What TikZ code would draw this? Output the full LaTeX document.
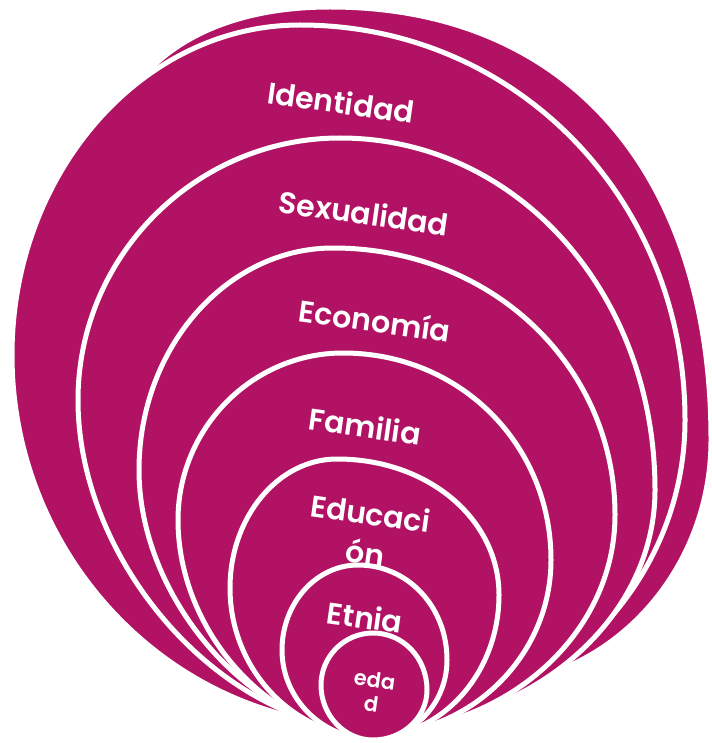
\documentclass[tikz,border=0pt]{standalone}
\usepackage{fontspec}
\setmainfont{Poppins}
\newfontfamily\lblfont{Poppins SemiBold}
\usetikzlibrary{calc}
\definecolor{mag}{RGB}{177,18,100}
\newcommand{\drawegg}[6]{%
 \path[#1] (#2T) .. controls ($(#2T)!#3!(#2T-|#2R)$) and ($(#2R)!#3!(#2T-|#2R)$) .. (#2R)
 .. controls ($(#2R)!#4!(#2B-|#2R)$) and ($(#2B)!#4!(#2B-|#2R)$) .. (#2B)
 .. controls ($(#2B)!#5!(#2B-|#2L)$) and ($(#2L)!#5!(#2B-|#2L)$) .. (#2L)
 .. controls ($(#2L)!#6!(#2T-|#2L)$) and ($(#2T)!#6!(#2T-|#2L)$) .. cycle;}
\tikzset{
  layer/.style={fill=mag, draw=white, line width=5pt, line join=round},
  lbl/.style={text=white, font=\lblfont\fontsize{30}{40}\selectfont, rotate=-8, inner sep=0pt, align=center},
  lblsmall/.style={text=white, font=\lblfont\fontsize{21}{25}\selectfont, rotate=-8, inner sep=0pt, align=center}
}
\begin{document}
\begin{tikzpicture}[x=1pt,y=-1pt]
\useasboundingbox (0,0) rectangle (711,743);
% back shape
\coordinate (bkT) at (330,7);   \coordinate (bkR) at (711,440);
\coordinate (bkB) at (480,685); \coordinate (bkL) at (100,200);
% Identidad
\coordinate (idT) at (300,25);  \coordinate (idR) at (685,420);
\coordinate (idB) at (372,726); \coordinate (idL) at (12,355);
% Sexualidad
\coordinate (sxT) at (340,138); \coordinate (sxR) at (655,490);
\coordinate (sxB) at (372,729); \coordinate (sxL) at (78,400);
% Economia
\coordinate (ecT) at (333,248); \coordinate (ecR) at (615,515);
\coordinate (ecB) at (372,732); \coordinate (ecL) at (139,470);
% Familia
\coordinate (faT) at (343,353); \coordinate (faR) at (551,560);
\coordinate (faB) at (372,735); \coordinate (faL) at (178,520);
% Educacion
\coordinate (euT) at (337,459); \coordinate (euR) at (499,595);
\coordinate (euB) at (372,737); \coordinate (euL) at (230,588);
% Etnia
\coordinate (etT) at (358,565); \coordinate (etR) at (447,660);
\coordinate (etB) at (372,739); \coordinate (etL) at (282,650);
% edad
\coordinate (agT) at (373,633); \coordinate (agR) at (427,690);
\coordinate (agB) at (373,740); \coordinate (agL) at (321,685);

\drawegg{layer}{bk}{0.62}{0.55}{0.55}{0.62}
\drawegg{layer}{id}{0.56}{0.55}{0.55}{0.55}
\drawegg{layer}{sx}{0.56}{0.55}{0.5}{0.55}
\drawegg{layer}{ec}{0.56}{0.55}{0.5}{0.55}
\drawegg{layer}{fa}{0.56}{0.55}{0.52}{0.55}
\drawegg{layer}{eu}{0.56}{0.55}{0.55}{0.55}
\drawegg{layer}{et}{0.56}{0.55}{0.55}{0.55}
\drawegg{layer}{ag}{0.56}{0.55}{0.55}{0.55}

\node[lbl] (tid) at (341,102) {Identidad};
\node[lbl] (tsx) at (364,213) {Sexualidad};
\node[lbl] (tec) at (375,320) {Economía};
\node[lbl] (tfa) at (365,426) {Familia};
\node[lbl] (teu) at (368,533) {Educaci\\ón};
\node[lbl] (tet) at (365,617) {Etnia};
\node[lblsmall] (tag) at (373,692) {eda\\d};
\end{tikzpicture}
\end{document}
